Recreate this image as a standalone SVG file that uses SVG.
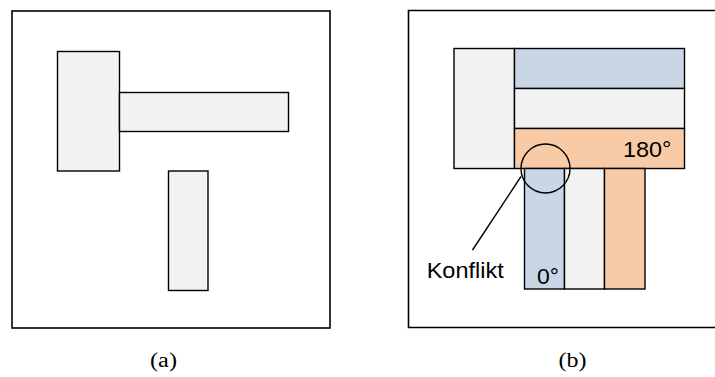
<svg xmlns="http://www.w3.org/2000/svg" width="715" height="377" viewBox="0 0 715 377">
<style>
.frame{fill:#fff;stroke:#000;stroke-width:1.6}
.blk{stroke:#000;stroke-width:1.4}
.g{fill:#f2f2f2}
.b{fill:#c9d6e6}
.o{fill:#f8cba6}
.lbl{font-family:"Liberation Sans",Arial,sans-serif;font-size:22px;fill:#000}
.cap{font-family:"Liberation Serif","Times New Roman",serif;font-size:20px;fill:#000}
</style>
<rect width="715" height="377" fill="#fff"/>
<g id="panel-a">
<rect class="frame" x="12" y="11" width="318" height="317"/>
<g id="a-left"><rect class="blk g" x="57.5" y="51.5" width="62" height="119.5"/></g>
<g id="a-bar"><rect class="blk g" x="119.5" y="92.5" width="169" height="39"/></g>
<g id="a-vert"><rect class="blk g" x="168.5" y="171" width="39.5" height="119.5"/></g>
<text class="cap" x="163.5" y="367" text-anchor="middle" textLength="27" lengthAdjust="spacingAndGlyphs">(a)</text>
</g>
<g id="panel-b">
<path class="frame" d="M716 10.5 H408.5 V327.5 H716"/>
<g id="b-left"><rect class="blk g" x="454" y="48.5" width="60.5" height="120"/></g>
<g id="b-blue"><rect class="blk b" x="514.5" y="48.5" width="170" height="40"/></g>
<g id="b-gray"><rect class="blk g" x="514.5" y="88.5" width="170" height="40"/></g>
<g id="b-orange"><rect class="blk o" x="514.5" y="128.5" width="170" height="40"/>
<text class="lbl" x="671.5" y="156.7" text-anchor="end" textLength="48.5" lengthAdjust="spacingAndGlyphs">180°</text></g>
<g id="b-vblue"><rect class="blk b" x="524.5" y="168.5" width="40" height="120.5"/>
<text class="lbl" x="537" y="283.5" textLength="22" lengthAdjust="spacingAndGlyphs">0°</text></g>
<g id="b-vgray"><rect class="blk g" x="564.5" y="168.5" width="40" height="120.5"/></g>
<g id="b-vorange"><rect class="blk o" x="604.5" y="168.5" width="40.5" height="120.5"/></g>
<g id="connectors">
<circle cx="545.5" cy="168.5" r="24.5" fill="none" stroke="#000" stroke-width="1.4"/>
<line x1="521" y1="176.5" x2="472.5" y2="250" stroke="#000" stroke-width="1.4"/>
</g>
<text class="lbl" x="426.7" y="277.5" textLength="77" lengthAdjust="spacingAndGlyphs">Konflikt</text>
<text class="cap" x="572.5" y="367" text-anchor="middle" textLength="28" lengthAdjust="spacingAndGlyphs">(b)</text>
</g>
</svg>
